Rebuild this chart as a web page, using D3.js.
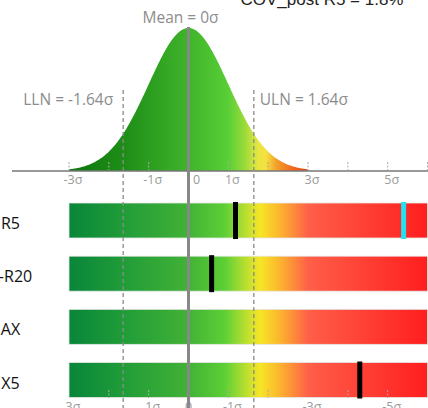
<!DOCTYPE html>
<html>
<head>
<meta charset="utf-8">
<script src="https://cdn.jsdelivr.net/npm/d3@7"></script>
<style>
html,body{margin:0;padding:0;background:#fff;overflow:hidden;}
svg{display:block;}
</style>
</head>
<body>
<svg id="chart" width="428" height="408"></svg>
<script>
// ---- data ----
const title = "COV_post R5 = 1.8%";
const categories = ["R5", "R5-R20", "AX", "X5"];
const measuredZ = [1.18, 0.58, null, 4.3];      // black markers (σ position)
const referenceZ = [5.4, null, null, null];     // cyan marker (σ position)
const topTickValues = [-3, -1, 0, 1, 3, 5];
const topTickLabels = ["-3σ", "-1σ", "0", "1σ", "3σ", "5σ"];
const bottomTickValues = [-3, -1, 0, 1, 3, 5];
const bottomTickLabels = ["3σ", "1σ", "0", "-1σ", "-3σ", "-5σ"];
const minorTicks = [-3, -2, -1, 1, 2, 3, 4, 5, 6];
const bottomMinorTicks = [-2, -1, 1, 2, 4, 5];
const lln = -1.64, uln = 1.64, mean = 0;

// ---- layout ----
const svg = d3.select("#chart");
const x = d3.scaleLinear().domain([-3, 6]).range([69, 427.5]);
const axisY = 171;
const yCurve = d3.scaleLinear().domain([0, 1 / Math.sqrt(2 * Math.PI)]).range([axisY, 28]);
const yRow = d3.scalePoint().domain(categories).range([220.5, 380]);
const barH = 35;
const defs = svg.append("defs");

// curve gradient
const cg = defs.append("linearGradient").attr("id", "curveGrad")
  .attr("gradientUnits", "userSpaceOnUse").attr("x1", x(-3)).attr("x2", x(3)).attr("y1", 0).attr("y2", 0);
[[-3, "#0c760c"], [-1.6, "#1f8e18"], [0, "#3fb42a"], [1, "#58cf36"], [1.4, "#98da3a"],
 [1.75, "#e8e640"], [1.95, "#f6e040"], [2.2, "#f3a02c"], [2.6, "#f06a1e"], [3, "#e84810"]]
  .forEach(([v, c]) => cg.append("stop").attr("offset", (x(v) - x(-3)) / (x(3) - x(-3))).attr("stop-color", c));

// bar gradient
const bg = defs.append("linearGradient").attr("id", "barGrad")
  .attr("gradientUnits", "userSpaceOnUse").attr("x1", x(-3)).attr("x2", x(6)).attr("y1", 0).attr("y2", 0);
[[-3, "#08863a"], [-1.5, "#239e38"], [0, "#42b236"], [0.9, "#5ccf36"], [1.4, "#b2de30"],
 [1.8, "#f8e526"], [2.3, "#fbb42e"], [3, "#ff6048"], [3.2, "#ff5a46"], [6, "#ff1e1e"]]
  .forEach(([v, c]) => bg.append("stop").attr("offset", (x(v) - x(-3)) / (x(6) - x(-3))).attr("stop-color", c));

// normal curve
const pdf = z => Math.exp(-z * z / 2) / Math.sqrt(2 * Math.PI);
const curvePts = d3.range(-3, 3.0001, 0.02);
svg.append("path").datum(curvePts)
  .attr("d", d3.area().x(d => x(d)).y0(axisY).y1(d => yCurve(pdf(d))))
  .attr("fill", "url(#curveGrad)");

// top minor ticks
svg.selectAll(".tt").data(minorTicks).join("line")
  .attr("x1", d => x(d)).attr("x2", d => x(d)).attr("y1", axisY - 9).attr("y2", axisY - 1)
  .attr("stroke", "#aaa").attr("stroke-width", 1).attr("stroke-dasharray", "2,1.5");

// axis line
svg.append("line").attr("x1", 12).attr("x2", 428).attr("y1", axisY).attr("y2", axisY)
  .attr("stroke", "#777").attr("stroke-width", 1.6);

// top tick labels
svg.selectAll(".tl").data(topTickValues).join("text")
  .attr("x", (d, i) => x(d) + (d === 0 ? 8 : 4)).attr("y", axisY + 13)
  .attr("text-anchor", "middle").attr("font-family", "'Open Sans', sans-serif")
  .attr("font-size", 12.5).attr("fill", "#9a9a9a").text((d, i) => topTickLabels[i]);

// bars
const rows = svg.selectAll(".row").data(categories).join("g");
rows.append("rect")
  .attr("x", x(-3)).attr("width", x(6) - x(-3))
  .attr("y", d => yRow(d) - barH / 2).attr("height", barH)
  .attr("fill", "url(#barGrad)").attr("stroke", "#e6e6e6").attr("stroke-width", 0.8);
rows.append("text")
  .attr("x", (d, i) => d.length > 3 ? 6 : 10.5).attr("y", d => yRow(d) + 8.5)
  .attr("text-anchor", "middle").attr("font-family", "'Open Sans', sans-serif")
  .attr("font-size", 16).attr("fill", "#111").text(d => d);

// bottom minor ticks
svg.selectAll(".bt").data(bottomMinorTicks).join("line")
  .attr("x1", d => x(d)).attr("x2", d => x(d)).attr("y1", 390).attr("y2", 398)
  .attr("stroke", "#aaa").attr("stroke-width", 1).attr("stroke-dasharray", "2,1.5");

// bottom tick labels
svg.selectAll(".bl").data(bottomTickValues).join("text")
  .attr("x", d => x(d) + (d === 0 ? 0 : 4)).attr("y", 411)
  .attr("text-anchor", "middle").attr("font-family", "'Open Sans', sans-serif")
  .attr("font-size", 12.5).attr("fill", "#9a9a9a").text((d, i) => bottomTickLabels[i]);

// LLN / ULN dashed lines
[lln, uln].forEach(v => {
  svg.append("line").attr("x1", x(v)).attr("x2", x(v)).attr("y1", 90).attr("y2", 408)
    .attr("stroke", "#8a8a8a").attr("stroke-width", 1.3).attr("stroke-dasharray", "4,3");
});

// mean line
svg.append("line").attr("x1", x(mean)).attr("x2", x(mean)).attr("y1", 27).attr("y2", 408)
  .attr("stroke", "#888").attr("stroke-width", 3);

// markers
rows.each(function (d, i) {
  const g = d3.select(this);
  if (measuredZ[i] != null) {
    g.append("rect").attr("x", x(measuredZ[i]) - 2.5).attr("width", 5)
      .attr("y", yRow(d) - barH / 2 - 1).attr("height", barH + 2).attr("fill", "#000");
  }
  if (referenceZ[i] != null) {
    g.append("rect").attr("x", x(referenceZ[i]) - 2.5).attr("width", 5)
      .attr("y", yRow(d) - barH / 2 - 1).attr("height", barH + 2).attr("fill", "#1fe3f0");
  }
});

// labels
const gray = "#8c8c8c";
svg.append("text").attr("x", x(mean) - 8).attr("y", 23).attr("text-anchor", "middle")
  .attr("font-family", "'Open Sans', sans-serif").attr("font-size", 15.5).attr("fill", gray)
  .text("Mean = 0σ");
svg.append("text").attr("x", x(lln) - 10).attr("y", 105).attr("text-anchor", "end")
  .attr("font-family", "'Open Sans', sans-serif").attr("font-size", 15.5).attr("fill", gray)
  .text("LLN = -1.64σ");
svg.append("text").attr("x", x(uln) + 6).attr("y", 105).attr("text-anchor", "start")
  .attr("font-family", "'Open Sans', sans-serif").attr("font-size", 15.5).attr("fill", gray)
  .text("ULN = 1.64σ");

// title (clipped at top)
svg.append("text").attr("x", 322).attr("y", 5).attr("text-anchor", "middle")
  .attr("font-family", "'Liberation Sans', Arial, sans-serif").attr("font-size", 17).attr("fill", "#222")
  .text(title);
</script>
</body>
</html>
